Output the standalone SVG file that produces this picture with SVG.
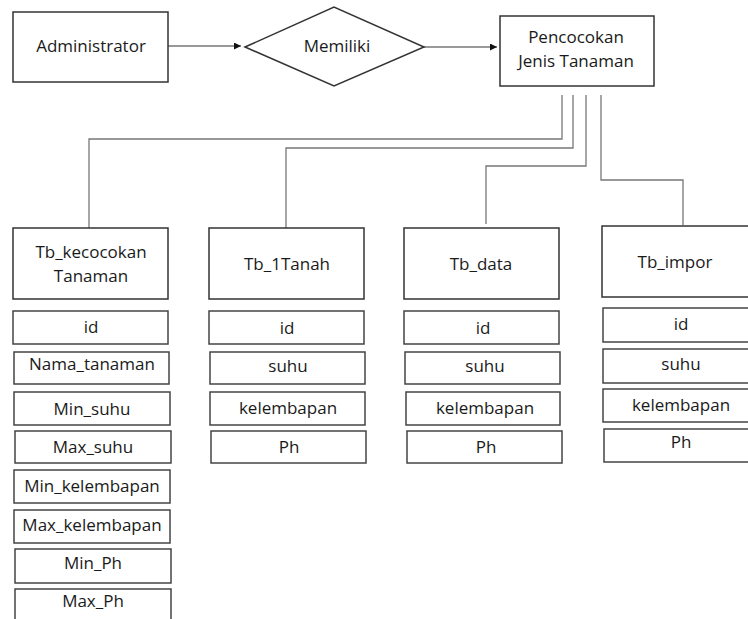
<svg xmlns="http://www.w3.org/2000/svg" width="748" height="619" viewBox="0 0 748 619">
<style>
.box{fill:#fff;stroke:#333;stroke-width:1.5}
.fld{fill:#fff;stroke:#444;stroke-width:1.5}
.t{font-family:"Open Sans","Noto Sans","Liberation Sans",sans-serif;font-size:17px;fill:#1a1a1a;text-anchor:middle}
.ln{fill:none;stroke:#777;stroke-width:1.3}
</style>
<defs>
<marker id="ah" viewBox="0 0 10 10" refX="10" refY="5" markerWidth="7" markerHeight="7" markerUnits="userSpaceOnUse" orient="auto">
<path d="M0,0 L10,5 L0,10 z" fill="#111"/>
</marker>
</defs>
<rect width="748" height="619" fill="#fff"/>
<g id="connectors">
<line class="ln" x1="168" y1="46" x2="241" y2="46" marker-end="url(#ah)"/>
<line class="ln" x1="424" y1="47" x2="497" y2="47" marker-end="url(#ah)"/>
<polyline class="ln" points="562,95 562,139 89,139 89,228"/>
<polyline class="ln" points="573,95 573,148 286,148 286,228"/>
<polyline class="ln" points="586,95 586,166 486,166 486,224"/>
<polyline class="ln" points="601,95 601,180 683,180 683,225"/>
</g>
<g id="administrator">
<rect class="box" x="13" y="12" width="155" height="70"/>
<text class="t" x="91" y="52">Administrator</text>
</g>
<g id="memiliki">
<polygon class="box" points="245,47 334,7 424,47 334,86"/>
<text class="t" x="337" y="52">Memiliki</text>
</g>
<g id="pencocokan">
<rect class="box" x="500" y="16" width="154" height="70"/>
<text class="t" x="576" y="43">Pencocokan</text>
<text class="t" x="576" y="67">Jenis Tanaman</text>
</g>
<g id="tb_kecocokan">
<rect class="box" x="13" y="228" width="155" height="71"/>
<text class="t" x="91" y="258">Tb_kecocokan</text>
<text class="t" x="91" y="282">Tanaman</text>
<rect class="fld" x="13" y="311" width="155" height="33"/>
<text class="t" x="91" y="333">id</text>
<rect class="fld" x="14" y="352" width="155" height="32"/>
<text class="t" x="92" y="370">Nama_tanaman</text>
<rect class="fld" x="14" y="392" width="156" height="33"/>
<text class="t" x="92" y="415">Min_suhu</text>
<rect class="fld" x="15" y="431" width="156" height="32"/>
<text class="t" x="93" y="453">Max_suhu</text>
<rect class="fld" x="14" y="470" width="156" height="33"/>
<text class="t" x="92" y="492">Min_kelembapan</text>
<rect class="fld" x="14" y="510" width="156" height="33"/>
<text class="t" x="92" y="531">Max_kelembapan</text>
<rect class="fld" x="15" y="549" width="156" height="34"/>
<text class="t" x="93" y="569">Min_Ph</text>
<rect class="fld" x="15" y="589" width="156" height="40"/>
<text class="t" x="93" y="607">Max_Ph</text>
</g>
<g id="tb_1tanah">
<rect class="box" x="209" y="228" width="155" height="71"/>
<text class="t" x="287" y="270">Tb_1Tanah</text>
<rect class="fld" x="209" y="311" width="155" height="33"/>
<text class="t" x="287" y="334">id</text>
<rect class="fld" x="210" y="352" width="155" height="32"/>
<text class="t" x="288" y="372">suhu</text>
<rect class="fld" x="210" y="392" width="155" height="33"/>
<text class="t" x="288" y="414">kelembapan</text>
<rect class="fld" x="211" y="431" width="155" height="32"/>
<text class="t" x="289" y="453">Ph</text>
</g>
<g id="tb_data">
<rect class="box" x="404" y="228" width="155" height="71"/>
<text class="t" x="481" y="270">Tb_data</text>
<rect class="fld" x="404" y="311" width="155" height="33"/>
<text class="t" x="483" y="334">id</text>
<rect class="fld" x="405" y="352" width="155" height="32"/>
<text class="t" x="485" y="372">suhu</text>
<rect class="fld" x="406" y="392" width="154" height="33"/>
<text class="t" x="485" y="414">kelembapan</text>
<rect class="fld" x="407" y="431" width="155" height="32"/>
<text class="t" x="486" y="453">Ph</text>
</g>
<g id="tb_impor">
<rect class="box" x="602" y="226" width="160" height="71"/>
<text class="t" x="675" y="268">Tb_impor</text>
<rect class="fld" x="603" y="308" width="160" height="34"/>
<text class="t" x="681" y="330">id</text>
<rect class="fld" x="603" y="349" width="160" height="34"/>
<text class="t" x="681" y="370">suhu</text>
<rect class="fld" x="603" y="389" width="160" height="33"/>
<text class="t" x="681" y="411">kelembapan</text>
<rect class="fld" x="604" y="429" width="160" height="33"/>
<text class="t" x="681" y="448">Ph</text>
</g>
</svg>
